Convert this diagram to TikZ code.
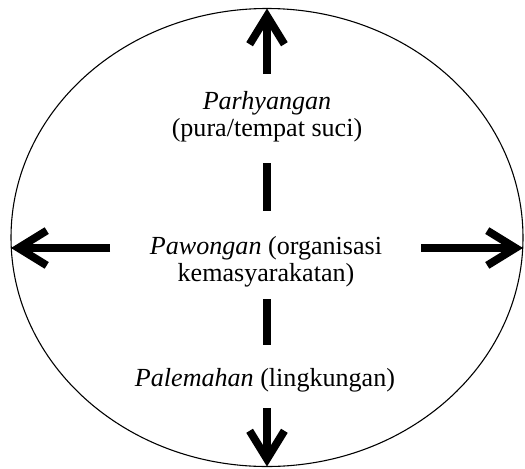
\documentclass[tikz,border=0pt]{standalone}
\usepackage{fontspec}
\setmainfont{Liberation Serif}
\usetikzlibrary{arrows.meta,shapes.geometric}

\tikzset{
  label/.style={align=center,font=\fontsize{12}{12.4}\selectfont},
  panah/.style={line width=3.6pt,-{Straight Barb[length=13pt,width=16pt]}},
  garis/.style={line width=3.6pt}
}

\begin{document}
\begin{tikzpicture}[x=0.46pt,y=-0.46pt]
  \useasboundingbox (0,0) rectangle (525,468);
  \node[draw,ellipse,line width=0.5pt,minimum width=512*0.46pt,minimum height=458*0.46pt,
        inner sep=0pt,outer sep=0pt] (ring) at (267,237.5) {};
  % the three parts of Tri Hita Karana
  \node[label] (parhyangan) at (267,117) {\textit{Parhyangan}\\(pura/tempat suci)};
  \node[label] (pawongan) at (266,262) {\textit{Pawongan} (organisasi\\kemasyarakatan)};
  \node[label] (palemahan) at (265,380) {\textit{Palemahan} (lingkungan)};
  \coordinate (atas) at (267,74);
  \coordinate (kiri) at (110,248);
  \coordinate (kanan) at (421,248);
  \coordinate (bawah) at (267,408);
  \coordinate (b1) at (267,163);
  \coordinate (b2) at (267,211);
  \coordinate (b3) at (267,299);
  \coordinate (b4) at (267,345);
  \draw[panah] (atas) -- (ring.north);
  \draw[panah] (kiri) -- (ring.west |- kiri);
  \draw[panah] (kanan) -- (ring.east |- kanan);
  \draw[panah] (bawah) -- (ring.south);
  \draw[garis] (b1) -- (b2);
  \draw[garis] (b3) -- (b4);
\end{tikzpicture}
\end{document}
